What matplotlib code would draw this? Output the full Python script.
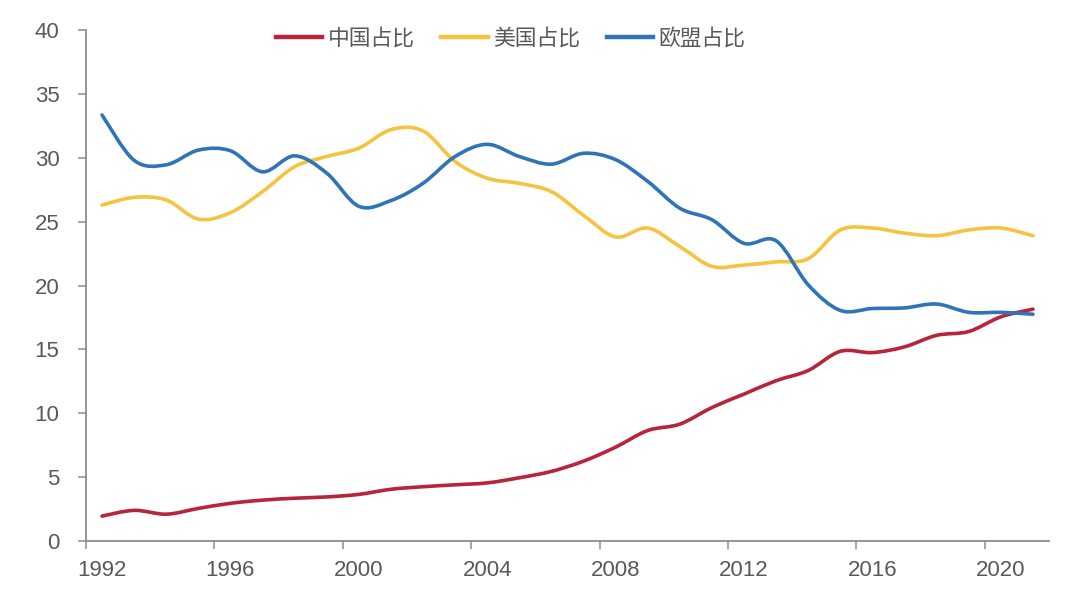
import matplotlib
matplotlib.use("Agg")
import matplotlib.pyplot as plt
from matplotlib.path import Path
from matplotlib.patches import PathPatch
from matplotlib.lines import Line2D

plt.rcParams['font.family'] = ['Liberation Sans', 'Noto Sans CJK SC', 'DejaVu Sans']

# 数据：1992-2021 年各经济体占比（%）
years = list(range(1992, 2022))
china = [1.95, 2.4, 2.1, 2.55, 2.95, 3.2, 3.35, 3.45, 3.65, 4.05,
         4.25, 4.4, 4.55, 4.95, 5.45, 6.25, 7.35, 8.65, 9.15, 10.45,
         11.5, 12.55, 13.35, 14.85, 14.75, 15.2, 16.1, 16.4, 17.55, 18.15]
usa = [26.3, 26.9, 26.7, 25.2, 25.7, 27.35, 29.3, 30.1, 30.75, 32.2,
       32.1, 29.7, 28.4, 28.0, 27.35, 25.5, 23.8, 24.5, 23.05, 21.5,
       21.6, 21.85, 22.1, 24.35, 24.5, 24.1, 23.9, 24.35, 24.5, 23.9]
eu = [33.35, 29.8, 29.45, 30.6, 30.55, 28.9, 30.15, 28.8, 26.2, 26.65,
      28.0, 30.1, 31.05, 30.1, 29.5, 30.35, 29.85, 28.15, 26.05, 25.15,
      23.3, 23.5, 20.05, 18.05, 18.2, 18.25, 18.55, 17.9, 17.9, 17.75]

labels = ['中国占比', '美国占比', '欧盟占比']
colors = ['#B7243B', '#F4C33F', '#2F74B7']
tick_years = [1992, 1996, 2000, 2004, 2008, 2012, 2016, 2020]


# 类似 Excel 平滑线的贝塞尔曲线
def smooth_path(xs, ys):
    pts = list(zip(xs, ys))
    verts = [pts[0]]
    codes = [Path.MOVETO]
    n = len(pts)
    for i in range(n - 1):
        p0 = pts[i - 1] if i > 0 else pts[i]
        p1 = pts[i]
        p2 = pts[i + 1]
        p3 = pts[i + 2] if i + 2 < n else pts[i + 1]
        c1 = (p1[0] + (p2[0] - p0[0]) / 6, p1[1] + (p2[1] - p0[1]) / 6)
        c2 = (p2[0] - (p3[0] - p1[0]) / 6, p2[1] - (p3[1] - p1[1]) / 6)
        verts += [c1, c2, p2]
        codes += [Path.CURVE4] * 3
    return Path(verts, codes)


fig = plt.figure(figsize=(10.8, 5.98), dpi=100)
ax = fig.add_axes([0.0796, 0.0953, 0.8917, 0.8545])

for vals, c in zip([china, usa, eu], colors):
    patch = PathPatch(smooth_path(years, vals), transform=ax.transData,
                      fill=False, edgecolor=c, lw=2.6, capstyle='round',
                      joinstyle='round')
    ax.add_patch(patch)

ax.set_xlim(years[0] - 0.5, years[-1] + 0.5)
ax.set_ylim(0, 40)
ax.set_yticks(range(0, 41, 5))

# 刻度线在类别边界，标签在类别中心
ax.set_xticks([y - 0.5 for y in tick_years])
ax.set_xticklabels([])
ax.set_xticks(tick_years, minor=True)
ax.set_xticklabels([str(y) for y in tick_years], minor=True)
ax.tick_params(axis='x', which='minor', length=0, pad=14)
ax.tick_params(axis='x', which='major', length=6, width=1.1, color='#8C8C8C')
ax.tick_params(axis='y', length=6, width=1.1, color='#8C8C8C', pad=13)
ax.tick_params(axis='both', which='both', labelsize=16, labelcolor='#595959')

for s in ['top', 'right']:
    ax.spines[s].set_visible(False)
for s in ['left', 'bottom']:
    ax.spines[s].set_color('#8C8C8C')
    ax.spines[s].set_linewidth(1.3)

handles = [Line2D([], [], color=c, lw=3.2) for c in colors]
leg = ax.legend(handles, labels, loc='center', bbox_to_anchor=(0.441, 0.982),
                ncol=3, frameon=False, fontsize=15.7, handlelength=2.15,
                handletextpad=0.25, columnspacing=1.2)
for t in leg.get_texts():
    t.set_color('#595959')

fig.savefig('out.png', dpi=100)
